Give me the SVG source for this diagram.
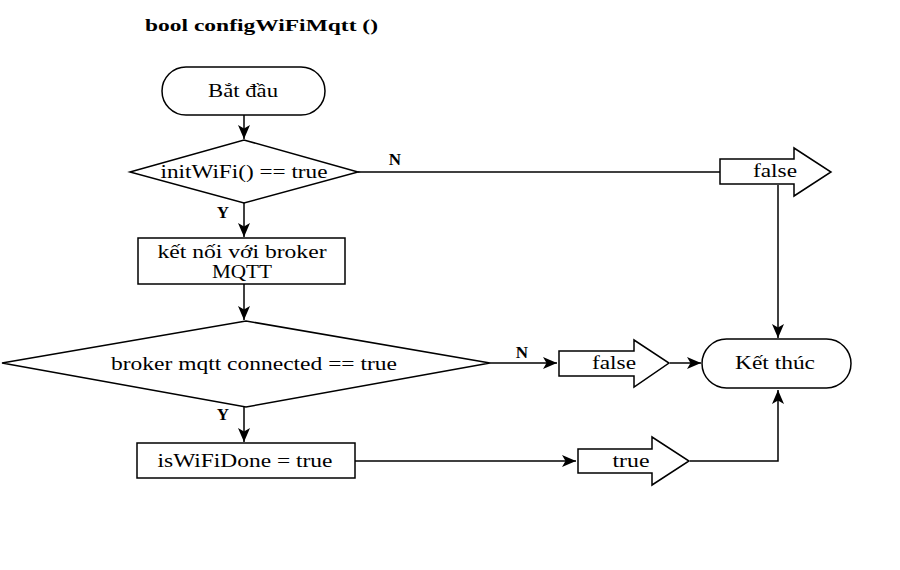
<svg xmlns="http://www.w3.org/2000/svg" width="900" height="570" viewBox="0 0 900 570">
<defs>
<marker id="ah" viewBox="0 0 14 12" refX="14" refY="6" markerWidth="14" markerHeight="12" markerUnits="userSpaceOnUse" orient="auto">
<path d="M0,0 L14,6 L0,12 L3.5,6 Z" fill="#000"/>
</marker>
<style>
.s{fill:#fff;stroke:#000;stroke-width:1.5}
.c{fill:none;stroke:#000;stroke-width:1.5}
.t{font-family:"Liberation Serif","Times New Roman",serif;font-size:18px;fill:#000;text-anchor:middle;dominant-baseline:central}
.l{font-family:"Liberation Serif","Times New Roman",serif;font-size:17px;font-weight:bold;fill:#000;text-anchor:middle;dominant-baseline:central}
</style>
</defs>
<rect width="900" height="570" fill="#fff"/>
<text x="145" y="25" textLength="233" lengthAdjust="spacingAndGlyphs" style="font-family:'Liberation Serif','Times New Roman',serif;font-size:17px;font-weight:bold;dominant-baseline:central">bool configWiFiMqtt ()</text>

<g id="connectors">
<path class="c" d="M244,115 V139" marker-end="url(#ah)"/>
<path class="c" d="M358,172 H720"/>
<path class="c" d="M778,185 V338" marker-end="url(#ah)"/>
<path class="c" d="M244,203 V237" marker-end="url(#ah)"/>
<path class="c" d="M244,284 V320" marker-end="url(#ah)"/>
<path class="c" d="M490,363 H557" marker-end="url(#ah)"/>
<path class="c" d="M670,363 H701" marker-end="url(#ah)"/>
<path class="c" d="M244,407 V442" marker-end="url(#ah)"/>
<path class="c" d="M355,461 H576" marker-end="url(#ah)"/>
<path class="c" d="M690,461 H778 V390" marker-end="url(#ah)"/>
<text class="l" x="395" y="159">N</text>
<text class="l" x="223" y="212">Y</text>
<text class="l" x="522" y="352">N</text>
<text class="l" x="223" y="414">Y</text>
</g>

<g id="start">
<rect class="s" x="162" y="67" width="163" height="48" rx="24" ry="24"/>
<text class="t" x="243" y="91" textLength="70" lengthAdjust="spacingAndGlyphs">Bắt đầu</text>
</g>

<g id="dec1">
<polygon class="s" points="130,172 244,140 358,172 244,203"/>
<text class="t" x="244" y="172" textLength="167" lengthAdjust="spacingAndGlyphs">initWiFi() == true</text>
</g>

<g id="false1">
<polygon class="s" points="720,159 794,159 794,148 831,172 794,196 794,184 720,184"/>
<text class="t" x="775" y="171" textLength="44" lengthAdjust="spacingAndGlyphs">false</text>
</g>

<g id="connect">
<rect class="s" x="138" y="238" width="207" height="46"/>
<text class="t" x="242" y="252" textLength="169" lengthAdjust="spacingAndGlyphs">kết nối với broker</text>
<text class="t" x="242" y="272" textLength="60" lengthAdjust="spacingAndGlyphs">MQTT</text>
</g>

<g id="dec2">
<polygon class="s" points="2,363 246,321 490,363 246,407"/>
<text class="t" x="254" y="364" textLength="286" lengthAdjust="spacingAndGlyphs">broker mqtt connected == true</text>
</g>

<g id="false2">
<polygon class="s" points="559,351 634,351 634,340 669,363 634,387 634,376 559,376"/>
<text class="t" x="614" y="363" textLength="44" lengthAdjust="spacingAndGlyphs">false</text>
</g>

<g id="end">
<rect class="s" x="702" y="339" width="149" height="49" rx="24.5" ry="24.5"/>
<text class="t" x="775" y="363" textLength="80" lengthAdjust="spacingAndGlyphs">Kết thúc</text>
</g>

<g id="done">
<rect class="s" x="137" y="443" width="218" height="35"/>
<text class="t" x="245" y="461" textLength="175" lengthAdjust="spacingAndGlyphs">isWiFiDone = true</text>
</g>

<g id="true1">
<polygon class="s" points="578,449 652,449 652,437 689,461 652,485 652,473 578,473"/>
<text class="t" x="631" y="461" textLength="37" lengthAdjust="spacingAndGlyphs">true</text>
</g>
</svg>
